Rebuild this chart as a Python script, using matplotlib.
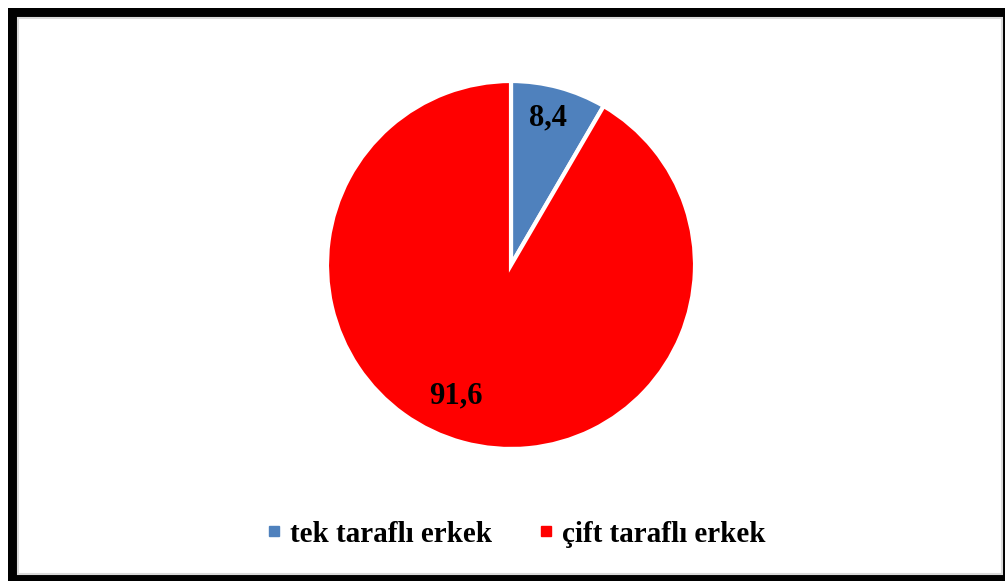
import matplotlib
matplotlib.use("Agg")
import matplotlib.pyplot as plt
from matplotlib.lines import Line2D
from matplotlib.patches import Rectangle

categories = ["tek taraflı erkek", "çift taraflı erkek"]
values = [8.4, 91.6]
value_labels = ["8,4", "91,6"]
colors = ["#4F81BD", "#FF0000"]

W, H = 1005, 581
fig = plt.figure(figsize=(W / 100, H / 100), dpi=100)
fig.patch.set_facecolor("white")

# frame: thick black border with light inner edge
fig.patches.append(Rectangle((8 / W, 0), 1 - 8 / W, 1 - 8 / H, transform=fig.transFigure,
                             facecolor="black", edgecolor="none", zorder=-3))
fig.patches.append(Rectangle((18 / W, 7 / H), 984 / W, 556 / H, transform=fig.transFigure,
                             facecolor="white", edgecolor="#d9d9d9", linewidth=1.5, zorder=-2))

cx, cy, r = 511, 265, 184
ax = fig.add_axes([(cx - r) / W, (H - cy - r) / H, 2 * r / W, 2 * r / H])
ax.set_zorder(2)
ax.pie(values, colors=colors, startangle=90, counterclock=False,
       wedgeprops=dict(edgecolor="white", linewidth=3))
ax.set_aspect("equal")
ax.set_xlim(-1, 1)
ax.set_ylim(-1, 1)
ax.axis("off")

font = dict(family="Liberation Serif", weight="bold", size=22, color="black")
label_pos = [(0.2, 0.80), (-0.30, -0.71)]
for (x, y), txt in zip(label_pos, value_labels):
    ax.text(x, y, txt, ha="center", va="center", **font)

handles = [Line2D([], [], marker="s", linestyle="none", markersize=7.5,
                  markerfacecolor=c, markeredgecolor=c) for c in colors]
leg = fig.legend(handles, categories, loc="center", bbox_to_anchor=(516 / W, 1 - 534 / H),
                 ncol=2, frameon=False, handlelength=0.5, handletextpad=0.3, columnspacing=1.6,
                 prop=dict(family="Liberation Serif", weight="bold", size=21))
leg.set_zorder(3)

fig.savefig("out.png", dpi=100)
